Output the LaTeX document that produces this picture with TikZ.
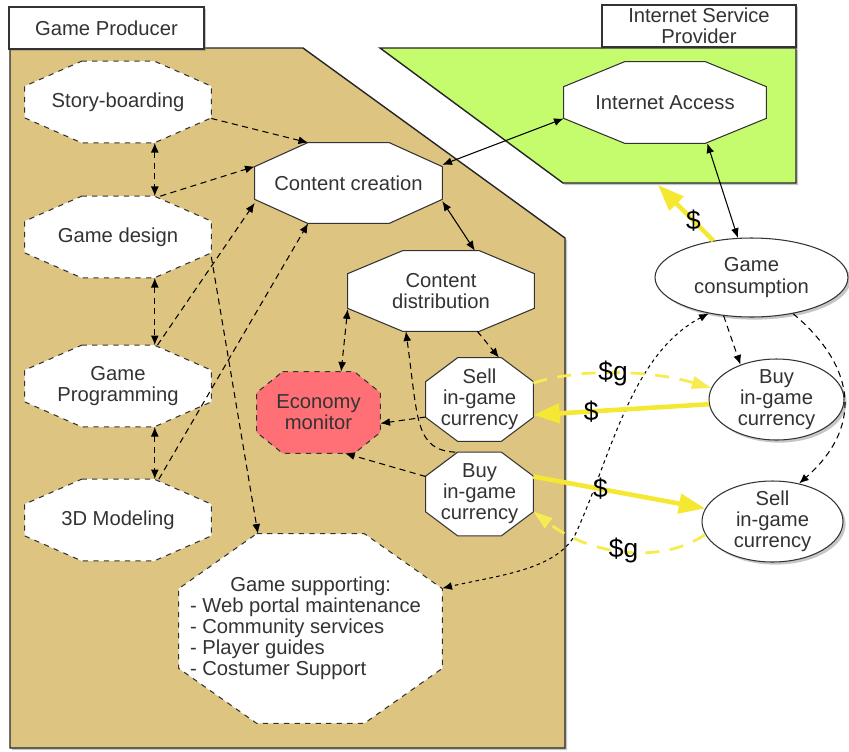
\documentclass[tikz,border=0pt]{standalone}
\usepackage{fontspec}
\setmainfont{Liberation Sans}
\usepackage{xcolor}
\usetikzlibrary{shapes.geometric, arrows.meta, shadows, positioning, calc}

\definecolor{producer}{RGB}{221,196,128}
\definecolor{isp}{RGB}{196,252,110}
\definecolor{alarm}{RGB}{255,112,118}
\definecolor{money}{RGB}{245,232,50}

\tikzset{
    lbl/.style={font=\fontsize{11.5}{12}\selectfont, text=black!80, align=center},
    txt/.style={label={[lbl]center:{#1}}},
    % octagon drawn round a plain box: chamfer x, chamfer y, look
    oct/.style n args={3}{rectangle, inner sep=0pt, append after command={\pgfextra{
        \draw[draw=black!80, fill=white, line width=0.6pt, #3]
            ($(\tikzlastnode.north west)+(#1,0)$) -- ($(\tikzlastnode.north east)+(-#1,0)$)
            -- ($(\tikzlastnode.north east)+(0,-#2)$) -- ($(\tikzlastnode.south east)+(0,#2)$)
            -- ($(\tikzlastnode.south east)+(-#1,0)$) -- ($(\tikzlastnode.south west)+(#1,0)$)
            -- ($(\tikzlastnode.south west)+(0,#2)$) -- ($(\tikzlastnode.north west)+(0,-#2)$) -- cycle;}}},
    task/.style={oct={1.14cm}{0.5cm}{dashed}, minimum width=3.72cm, minimum height=1.62cm},
    trade/.style={oct={0.64cm}{0.48cm}{}, minimum width=2.14cm, minimum height=1.66cm},
    bubble/.style={ellipse, draw=black!80, fill=white, inner sep=0pt, line width=0.6pt,
        drop shadow={shadow xshift=1.5pt, shadow yshift=-1.5pt, opacity=0.45}},
    tab/.style={rectangle, draw=black!80, fill=white, line width=0.6pt, inner sep=0pt,
        minimum height=0.84cm, lbl, drop shadow={shadow xshift=1.2pt, shadow yshift=-1.2pt, opacity=0.45}},
    region/.style={draw=black!85, line width=0.8pt, drop shadow={shadow xshift=1.2pt, shadow yshift=-1.2pt, opacity=0.45}},
    flow/.style={dash pattern=on 3.5pt off 2.5pt, line width=0.6pt},
    trace/.style={dash pattern=on 2pt off 2pt, line width=0.6pt},
    link/.style={line width=0.6pt},
    cash/.style={money, line width=2.6pt, -{Triangle[length=15pt,width=11pt]}},
    gold/.style={money!85, line width=1.6pt, dash pattern=on 8pt off 6pt, -{Triangle[length=11pt,width=7pt]}},
    coin/.style={font=\fontsize{15}{15}\selectfont, text=black, inner sep=0pt},
}

\begin{document}
\begin{tikzpicture}[x=0.02cm, y=-0.02cm, >={Latex[length=5.5pt,width=4.5pt]}]
    \useasboundingbox (0,0) rectangle (849,751);

    % owners
    \draw[region, fill=producer] (10,48) -- (303,48) -- (565,238) -- (565,748) -- (10,748) -- cycle;
    \draw[region, fill=isp] (380,48) -- (796,48) -- (796,183) -- (563,183) -- cycle;
    \node[tab, minimum width=3.9cm] (prod) at (106.5,28) {Game Producer};
    \node[tab, minimum width=3.88cm] (prov) at (699,26) {Internet Service\\Provider};

    % activities
    \node[task, txt=Story-boarding] (story) at (118,102) {};
    \node[task, txt=Game design] (design) at (118,237) {};
    \node[task, txt={Game\\Programming}] (prog) at (118,386) {};
    \node[task, txt=3D Modeling] (model) at (118,520) {};
    \node[oct={1.06cm}{0.48cm}{}, minimum width=3.74cm, minimum height=1.6cm, txt=Content creation] (create) at (348.5,183) {};
    \node[oct={1.1cm}{0.46cm}{}, minimum width=3.72cm, minimum height=1.6cm, txt={Content\\distribution}] (distr) at (441,291) {};
    \node[oct={0.52cm}{0.42cm}{dashed, fill=alarm}, minimum width=2.46cm, minimum height=1.62cm, txt={Economy\\monitor}] (econ) at (318.5,412.5) {};
    \node[trade, txt={Sell\\in-game\\currency}] (sellp) at (479.5,399.5) {};
    \node[trade, txt={Buy\\in-game\\currency}] (buyp) at (479.5,494) {};
    \node[oct={1.56cm}{1.1cm}{dashed}, minimum width=5.26cm, minimum height=3.78cm,
        label={[lbl, align=left, xshift=-0.1cm]center:{\hspace*{2em}Game supporting:\\- Web portal maintenance\\- Community services\\- Player guides\\- Costumer Support}}] (support) at (310.5,628.5) {};
    \node[oct={1.22cm}{0.5cm}{}, minimum width=4.04cm, minimum height=1.62cm, txt=Internet Access] (access) at (665,102.5) {};
    \node[bubble, minimum width=3.86cm, minimum height=1.58cm, txt={Game\\consumption}] (play) at (751.5,277.5) {};
    \node[bubble, minimum width=2.7cm, minimum height=1.62cm, txt={Buy\\in-game\\currency}] (buyc) at (776.5,399.5) {};
    \node[bubble, minimum width=2.82cm, minimum height=1.62cm, txt={Sell\\in-game\\currency}] (sellc) at (772.5,521.5) {};

    % work flow
    \draw[flow, <->] (story.-48) -- (design.48);
    \draw[flow, <->] (design.-48) -- (prog.48);
    \draw[flow, <->] (prog.-48) -- (model.48);
    \draw[flow, ->] (story.-10) -- (create.135);
    \draw[flow, ->] (design.44) -- (create.170);
    \draw[flow, ->] (prog.46) -- (create.192);
    \draw[flow, ->] (model.45) -- (create.225);
    \draw[flow, ->] (design.-12) -- (support.119);
    \draw[flow, <->] (distr.191) -- (econ.61);
    \draw[flow, ->] (distr.-48) -- (sellp.65);
    \draw[flow, ->] (sellp.198) -- (econ.-10);
    \draw[flow, ->] (buyp.162) -- (econ.-57);
    \draw[flow, ->] (buyp.120) .. controls (415,450) and (418,420) .. (distr.229);
    \draw[flow, ->] (play.234) -- (buyc.136);
    \draw[flow, ->] (play.-41) .. controls (860,370) and (860,430) .. (sellc.55);
    \draw[trace, <->] (play.220) .. controls (630,355) and (610,460) .. (575,535)
        .. controls (555,570) and (500,575) .. (support.17);

    % network
    \draw[link, <->] (create.11) -- (access.189);
    \draw[link, <->] (create.-11) -- (distr.50);
    \draw[link, <->] (access.-44) -- (play.109);

    % money
    \coordinate (gate) at (658,185);
    \draw[cash] (play.136) -- node[coin, pos=0.36] {\$} (gate);
    \draw[gold] (sellp.17) .. controls (580,368) and (650,370) .. node[coin, pos=0.48] {\$g} (buyc.170);
    \draw[cash] (buyc.184) -- node[coin, pos=0.67] {\$} (sellp.-16);
    \draw[cash] (buyp.18) -- node[coin, pos=0.39] {\$} (sellc.169);
    \draw[gold] (sellc.191.6) .. controls (660,565) and (590,555) .. node[coin, pos=0.5] {\$g} (buyp.-18);
\end{tikzpicture}
\end{document}
